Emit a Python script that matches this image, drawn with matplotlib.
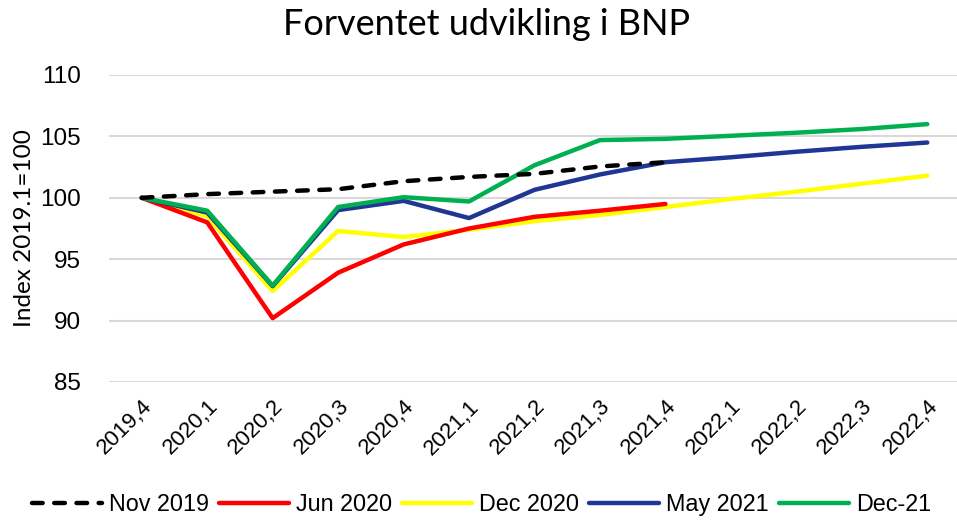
import matplotlib
matplotlib.use("Agg")
import matplotlib.pyplot as plt

# quarters on x axis
quarters = ["2019,4", "2020,1", "2020,2", "2020,3", "2020,4", "2021,1", "2021,2",
            "2021,3", "2021,4", "2022,1", "2022,2", "2022,3", "2022,4"]

# forecasts
nov_2019 = [100.0, 100.3, 100.5, 100.7, 101.35, 101.7, 101.95, 102.55, 102.9]
jun_2020 = [100.0, 98.0, 90.2, 93.9, 96.2, 97.5, 98.45, 98.95, 99.5]
dec_2020 = [100.0, 98.5, 92.4, 97.3, 96.8, 97.4, 98.1, 98.6, 99.25, 99.9, 100.5, 101.15, 101.8]
may_2021 = [100.0, 98.8, 92.8, 99.0, 99.75, 98.35, 100.65, 101.9, 102.9, 103.3, 103.75, 104.15, 104.5]
dec_2021 = [100.0, 98.95, 92.85, 99.25, 100.05, 99.7, 102.65, 104.7, 104.8, 105.05, 105.3, 105.6, 106.0]

series = [
    ("Nov 2019", nov_2019, "black", "--"),
    ("Jun 2020", jun_2020, "#FF0000", "-"),
    ("Dec 2020", dec_2020, "#FFFF00", "-"),
    ("May 2021", may_2021, "#1F3694", "-"),
    ("Dec-21", dec_2021, "#00B050", "-"),
]
zorders = {"Nov 2019": 6, "Jun 2020": 3, "Dec 2020": 2, "May 2021": 4, "Dec-21": 5}

fig = plt.figure(figsize=(9.57, 5.22), dpi=100)
ax = fig.add_axes([109 / 957, 1 - 382 / 522, (960 - 109) / 957, (382 - 75) / 522])

for name, vals, col, ls in series:
    x = list(range(len(vals)))
    ax.plot(x, vals, color=col, ls=ls, lw=3.2, label=name, zorder=zorders[name],
            solid_capstyle="round", dash_capstyle="round",
            dashes=(2.4, 2.6) if ls == "--" else (None, None))

ax.set_xlim(-0.5, len(quarters) - 0.5)
ax.set_ylim(85, 110)
ax.set_yticks([85, 90, 95, 100, 105, 110])
ax.set_xticks(range(len(quarters)))
ax.set_xticklabels(quarters, rotation=45, ha="right", rotation_mode="anchor",
                   family="Liberation Sans", fontsize=16)
for lab in ax.get_yticklabels():
    lab.set_family("Liberation Sans")
    lab.set_fontsize(17.5)

ax.grid(axis="y", color="#d9d9d9", lw=1.5, zorder=0)
ax.set_axisbelow(True)
for s in ax.spines.values():
    s.set_visible(False)
ax.tick_params(axis="both", length=0)
ax.tick_params(axis="y", pad=20)
ax.tick_params(axis="x", pad=10)

ax.set_ylabel("Index 2019.1=100", family="Lato", fontsize=17.5, labelpad=4)
fig.text(0.508, 0.953, "Forventet udvikling i BNP", ha="center", va="center",
         family="Lato", fontsize=26)

leg = fig.legend(loc="center", bbox_to_anchor=(0.503, 0.033), ncol=5, frameon=False,
                 prop={"family": "Liberation Sans", "size": 16.8},
                 handlelength=3.0, handletextpad=0.3, columnspacing=0.43)

fig.savefig("out.png", dpi=100)
